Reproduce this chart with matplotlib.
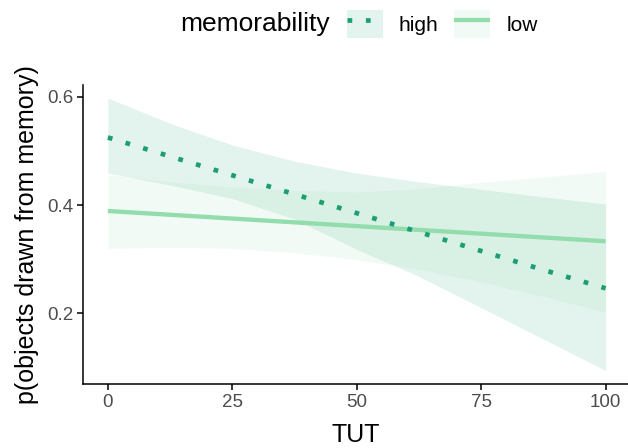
import numpy as np
import matplotlib
matplotlib.use("Agg")
from matplotlib import pyplot as plt
from matplotlib.patches import Rectangle
from matplotlib.lines import Line2D

# values
tut = [0, 12.5, 25, 37.5, 50, 62.5, 75, 87.5, 100]
high_fit = [0.525, 0.490, 0.455, 0.420, 0.385, 0.350, 0.315, 0.280, 0.246]
high_lo = [0.459, 0.437, 0.412, 0.374, 0.318, 0.268, 0.210, 0.152, 0.094]
high_hi = [0.598, 0.551, 0.511, 0.481, 0.459, 0.443, 0.429, 0.415, 0.402]
low_fit = [0.389, 0.382, 0.375, 0.368, 0.361, 0.354, 0.347, 0.340, 0.333]
low_lo = [0.320, 0.322, 0.320, 0.312, 0.299, 0.281, 0.258, 0.231, 0.202]
low_hi = [0.456, 0.443, 0.433, 0.427, 0.424, 0.430, 0.442, 0.452, 0.462]
xticks = [0, 25, 50, 75, 100]
yticks = [0.2, 0.4, 0.6]

high_col = "#1b9e77"
low_col = "#93dcab"

plt.rcParams["font.family"] = ["Liberation Sans", "DejaVu Sans"]

fig = plt.figure(figsize=(6.28, 4.48), dpi=100)
ax = fig.add_axes([83 / 628, 64 / 448, 545 / 628, 299 / 448])

ax.fill_between(tut, high_lo, high_hi, color=high_col, alpha=0.12, lw=0)
ax.fill_between(tut, low_lo, low_hi, color=low_col, alpha=0.12, lw=0)
ax.plot(tut, low_fit, color=low_col, lw=3.1, solid_capstyle="butt")
ax.plot(tut, high_fit, color=high_col, lw=3.4, linestyle=(0, (1, 2.9)),
        dash_capstyle="butt")

ax.set_xlim(-5, 104.5)
ax.set_ylim(0.069, 0.622)
ax.set_xticks(xticks)
ax.set_yticks(yticks)
ax.set_yticklabels([f"{v:.1f}" for v in yticks])
ax.spines["top"].set_visible(False)
ax.spines["right"].set_visible(False)
for s in ["left", "bottom"]:
    ax.spines[s].set_linewidth(1.1)
ax.tick_params(length=4, width=1.1, color="black", labelcolor="#4d4d4d",
               labelsize=13.5, pad=3)
ax.set_xlabel("TUT", fontsize=18, labelpad=9)
ax.set_ylabel("p(objects drawn from memory)", fontsize=18, labelpad=6)

# legend along the top
fig.text(180 / 628, 1 - 24 / 448, "memorability", fontsize=19,
         ha="left", va="center")
h_high = (Rectangle((0, 0), 1, 1, color=high_col, alpha=0.12, lw=0),
          Line2D([], [], color=high_col, lw=3.4, linestyle=(0, (1, 2.9)),
                 dash_capstyle="butt"))
h_low = (Rectangle((0, 0), 1, 1, color=low_col, alpha=0.12, lw=0),
         Line2D([], [], color=low_col, lw=3.1, solid_capstyle="butt"))
fig.legend([h_high, h_low], ["high", "low"], ncol=2, frameon=False,
           loc="center left", bbox_to_anchor=(347 / 628, 1 - 24 / 448),
           fontsize=15, handlelength=1.71, handleheight=1.71,
           handletextpad=0.77, columnspacing=0.77, borderaxespad=0,
           borderpad=0)

fig.savefig("out.png", dpi=100)
